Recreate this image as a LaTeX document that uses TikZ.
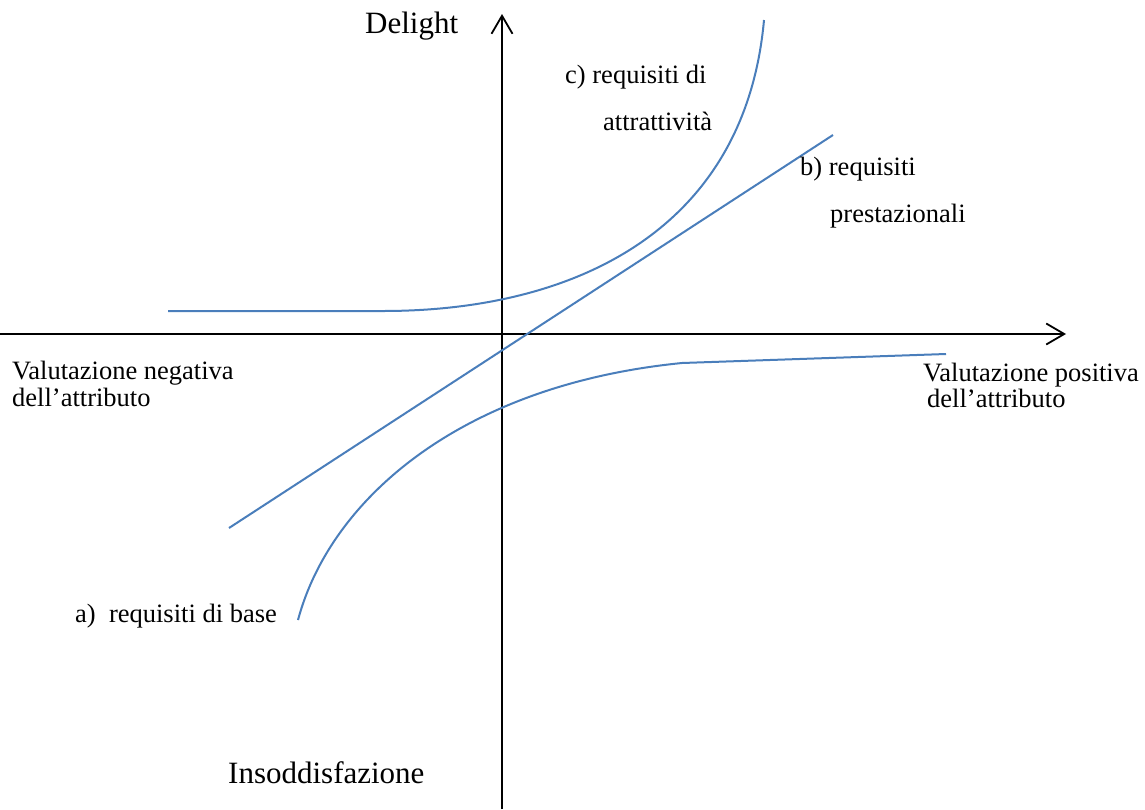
\documentclass[tikz,border=0pt]{standalone}
\usepackage{fontspec}
\setmainfont{Liberation Serif}
\usetikzlibrary{arrows.meta}
\definecolor{curveblue}{HTML}{4A7EBB}
\begin{document}
\begin{tikzpicture}[x=1pt,y=-1pt,
  axis/.style={line width=1.8pt,-{Straight Barb[length=18pt,width=21pt,line width=1.8pt]}},
  curve/.style={line width=2pt,curveblue},
  lbl/.style={font=\fontsize{26.5}{27}\selectfont,inner sep=0pt,anchor=base west},
  big/.style={font=\fontsize{31}{32}\selectfont,inner sep=0pt,anchor=base west}]
\useasboundingbox (0,0) rectangle (1145,809);
% axes
\coordinate (xs) at (0,334);
\coordinate (xe) at (1066,334);
\coordinate (ys) at (502,809);
\coordinate (ye) at (502,14);
\draw[axis] (xs) -- (xe);
\draw[axis] (ys) -- (ye);
% curve c
\coordinate (c0) at (168,311);
\coordinate (c1) at (383,311);
\coordinate (c2) at (764,20);
\draw[curve] (c0) -- (c1) .. controls (575,311) and (745,230) .. (c2);
% line b
\coordinate (b0) at (229,528);
\coordinate (b1) at (833,135);
\draw[curve] (b0) -- (b1);
% curve a
\coordinate (a0) at (298,620);
\coordinate (a1) at (682,363);
\coordinate (a2) at (946,354);
\draw[curve] (a0) .. controls (330,500) and (460,385) .. (a1) -- (a2);
% labels
\node[big] (delight) at (365,33) {Delight};
\node[big] (insodd) at (228,783) {Insoddisfazione};
\node[lbl] (c1l) at (565,83) {c) requisiti di};
\node[lbl] (c2l) at (603,130) {attrattività};
\node[lbl] (b1l) at (800,175) {b) requisiti};
\node[lbl] (b2l) at (830,222) {prestazionali};
\node[lbl] (al) at (75,622) {a)\ \ requisiti di base};
\node[lbl] (neg1) at (12,379) {Valutazione negativa};
\node[lbl] (neg2) at (12,406) {dell’attributo};
\node[lbl] (pos1) at (923,381) {Valutazione positiva};
\node[lbl] (pos2) at (927,407) {dell’attributo};
\end{tikzpicture}
\end{document}
